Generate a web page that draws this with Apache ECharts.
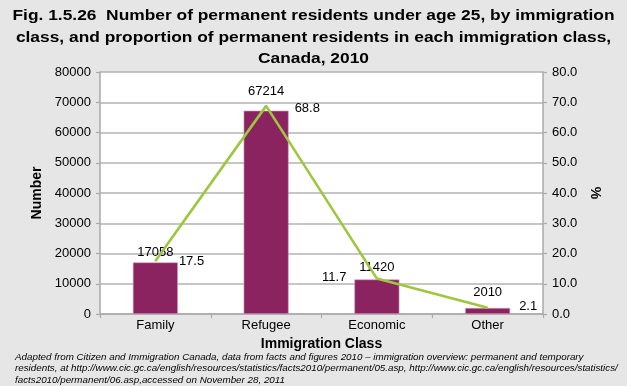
<!DOCTYPE html>
<html><head><meta charset="utf-8">
<script src="https://cdn.jsdelivr.net/npm/echarts@6/dist/echarts.min.js"></script>
<style>html,body{margin:0;padding:0;background:#e6e6e6}#c{width:627px;height:386px}</style>
</head><body><div id="c"></div>
<script>
// ---- data ----
const categories = ['Family', 'Refugee', 'Economic', 'Other'];
const numbers = [17058, 67214, 11420, 2010];
const percents = [17.5, 68.8, 11.7, 2.1];
const leftTicks = [0, 10000, 20000, 30000, 40000, 50000, 60000, 70000, 80000];
const rightTicks = ['0.0', '10.0', '20.0', '30.0', '40.0', '50.0', '60.0', '70.0', '80.0'];
const titleLines = [
  'Fig. 1.5.26  Number of permanent residents under age 25, by immigration',
  'class, and proportion of permanent residents in each immigration class,',
  'Canada, 2010'
];
const sourceLines = [
  'Adapted from Citizen and Immigration Canada, data from facts and figures 2010 – immigration overview: permanent and temporary',
  'residents, at http://www.cic.gc.ca/english/resources/statistics/facts2010/permanent/05.asp, http://www.cic.gc.ca/english/resources/statistics/',
  'facts2010/permanent/06.asp,accessed on November 28, 2011'
];

// ---- label placement (style, not data) ----
const barLabelDist = [3, 13, 6, 8.5];
const lineLabelPos = ['right', 'right', 'left', 'right'];
const lineLabelDist = [23, 28, 30, 31];
const lineLabelDy = [0, 3, -1, -1];

const FONT = '"Liberation Sans", Arial, Helvetica, sans-serif';
const chart = echarts.init(document.getElementById('c'), null, {renderer: 'canvas'});

const titleY = [16, 37.5, 58.5];
const graphics = titleLines.map((t, i) => ({
  type: 'text', x: 313.5, y: titleY[i], scaleX: 1.12, silent: true,
  style: {text: t, fill: '#000', font: 'bold 15.5px ' + FONT, textAlign: 'center', textVerticalAlign: 'middle'}
}));
const srcY = [357, 368.5, 380];
sourceLines.forEach((t, i) => graphics.push({
  type: 'text', x: 15, y: srcY[i], silent: true,
  style: {text: t, fill: '#000', font: 'italic 9.8px ' + FONT, textAlign: 'left', textVerticalAlign: 'middle'}
}));

chart.setOption({
  backgroundColor: '#e6e6e6',
  animation: false,
  textStyle: {fontFamily: FONT},
  graphic: graphics,
  grid: {left: 100, right: 84, top: 72, bottom: 72, show: true, backgroundColor: '#fff', borderWidth: 0},
  xAxis: {
    type: 'category', data: categories,
    name: 'Immigration Class', nameLocation: 'middle', nameGap: 19,
    nameTextStyle: {fontFamily: FONT, fontSize: 14, fontWeight: 'bold', color: '#000'},
    axisLine: {lineStyle: {color: '#aaa', width: 1.5}},
    axisTick: {show: true, lineStyle: {color: '#aaa', width: 1.2}, length: 4},
    axisLabel: {fontFamily: FONT, fontSize: 13, color: '#000', margin: 5}
  },
  yAxis: [{
    type: 'value', min: leftTicks[0], max: leftTicks[leftTicks.length - 1], interval: leftTicks[1] - leftTicks[0],
    name: 'Number', nameLocation: 'middle', nameGap: 56, nameRotate: 90,
    nameTextStyle: {fontFamily: FONT, fontSize: 14, fontWeight: 'bold', color: '#000'},
    axisLine: {show: true, lineStyle: {color: '#aaa', width: 1.5}},
    axisTick: {show: true, lineStyle: {color: '#aaa', width: 1.2}, length: 4},
    axisLabel: {fontFamily: FONT, fontSize: 13, color: '#000', margin: 9, formatter: v => String(v)},
    splitLine: {lineStyle: {color: '#b3b3b3', width: 1.5}}
  }, {
    type: 'value', min: 0, max: 80, interval: 10,
    name: '%', nameLocation: 'middle', nameGap: 44, nameRotate: -90,
    nameTextStyle: {fontFamily: FONT, fontSize: 14, fontWeight: 'bold', color: '#000'},
    axisLine: {show: true, lineStyle: {color: '#aaa', width: 1.5}},
    axisTick: {show: true, lineStyle: {color: '#aaa', width: 1.2}, length: 4},
    axisLabel: {fontFamily: FONT, fontSize: 13, color: '#000', margin: 9,
      formatter: v => rightTicks[Math.round(v / 10)]},
    splitLine: {show: false}
  }],
  series: [{
    type: 'bar', yAxisIndex: 0, barWidth: 45,
    data: numbers.map((v, i) => ({value: v, label: {distance: barLabelDist[i]}})),
    itemStyle: {color: '#8b2360', borderColor: '#d3a3c0', borderWidth: 0.6},
    label: {show: true, position: 'top', fontFamily: FONT, fontSize: 13, color: '#000', formatter: p => String(p.value)}
  }, {
    type: 'line', yAxisIndex: 1,
    data: percents.map((v, i) => ({value: v, label: {position: lineLabelPos[i], distance: lineLabelDist[i], offset: [0, lineLabelDy[i]]}})),
    symbol: 'circle', symbolSize: 1, showSymbol: true,
    lineStyle: {color: '#9dc73d', width: 2.6},
    itemStyle: {color: '#9dc73d'},
    label: {show: true, fontFamily: FONT, fontSize: 13, color: '#000', formatter: p => p.value.toFixed(1)}
  }]
});
</script></body></html>
